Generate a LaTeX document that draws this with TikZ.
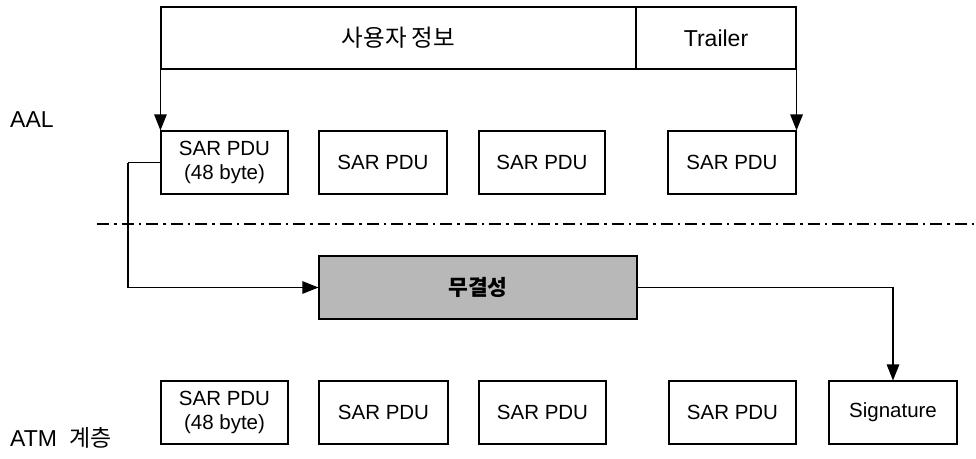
\documentclass[tikz,border=0pt]{standalone}
\usepackage{fontspec}
\setmainfont{Liberation Sans}
\newfontfamily\kr{Noto Sans CJK KR}
\usetikzlibrary{arrows.meta}
\tikzset{
  box/.style={draw=black, line width=1.1pt, inner sep=0pt, align=center,
    font=\fontsize{20.5}{24}\selectfont},
  arr/.style={line width=1.2pt, -{Triangle[length=16pt,width=12.5pt]}},
  conn/.style={line width=1.2pt},
  lbl/.style={inner sep=0pt, anchor=base west, font=\fontsize{23}{26}\selectfont},
  dashdot/.style={line width=1.1pt, dash pattern=on 12pt off 5pt on 2.5pt off 5pt},
  integ/.style={draw=black, line width=1.1pt, fill=black!28, inner sep=0pt,
    font=\kr\bfseries\fontsize{21.5}{24}\selectfont}
}
\begin{document}
\begin{tikzpicture}[x=1pt,y=-1pt]
\useasboundingbox (0,0) rectangle (976,458);
% top frame
\node[box, minimum width=475pt, minimum height=62pt, font=\kr\fontsize{23.5}{26}\selectfont] (user) at (398.5,38) {사용자 정보};
\node[box, minimum width=160pt, minimum height=62pt, font=\fontsize{23}{26}\selectfont] (trailer) at (716,38) {Trailer};
% AAL row
\node[box, minimum width=127pt, minimum height=63pt] (s1) at (224.5,162.5) {SAR PDU\\(48 byte)};
\node[box, minimum width=128pt, minimum height=63pt] (s2) at (383,162.5) {SAR PDU};
\node[box, minimum width=126pt, minimum height=63pt] (s3) at (542,162.5) {SAR PDU};
\node[box, minimum width=128pt, minimum height=63pt] (s4) at (732,162.5) {SAR PDU};
% integrity
\node[integ, minimum width=318pt, minimum height=63pt] (integ) at (478,287.5) {무결성};
% ATM row
\node[box, minimum width=127pt, minimum height=63pt] (b1) at (224.5,412.5) {SAR PDU\\(48 byte)};
\node[box, minimum width=129pt, minimum height=63pt] (b2) at (383.5,412.5) {SAR PDU};
\node[box, minimum width=127pt, minimum height=63pt] (b3) at (542.5,412.5) {SAR PDU};
\node[box, minimum width=127pt, minimum height=63pt] (b4) at (732.5,412.5) {SAR PDU};
\node[box, minimum width=128pt, minimum height=63pt] (sig) at (893,412.5) {Signature};
% labels
\node[lbl] (aal) at (10,127) {AAL};
\node[lbl] (atm) at (10,446) {ATM\hspace{6pt} {\kr 계층}};
% separator
\coordinate (sepL) at (97,224);
\coordinate (sepR) at (976,224);
\draw[dashdot] (sepL) -- (sepR);
% connectors
\draw[arr] (user.south west) -- (s1.north west);
\draw[arr] (trailer.south east) -- (s4.north east);
\coordinate (bend) at (128,162.5);
\draw[conn] (s1.west) -- (bend);
\draw[arr] (bend) |- (integ.west);
\draw[arr] (integ.east) -| (sig.north);
\end{tikzpicture}
\end{document}
